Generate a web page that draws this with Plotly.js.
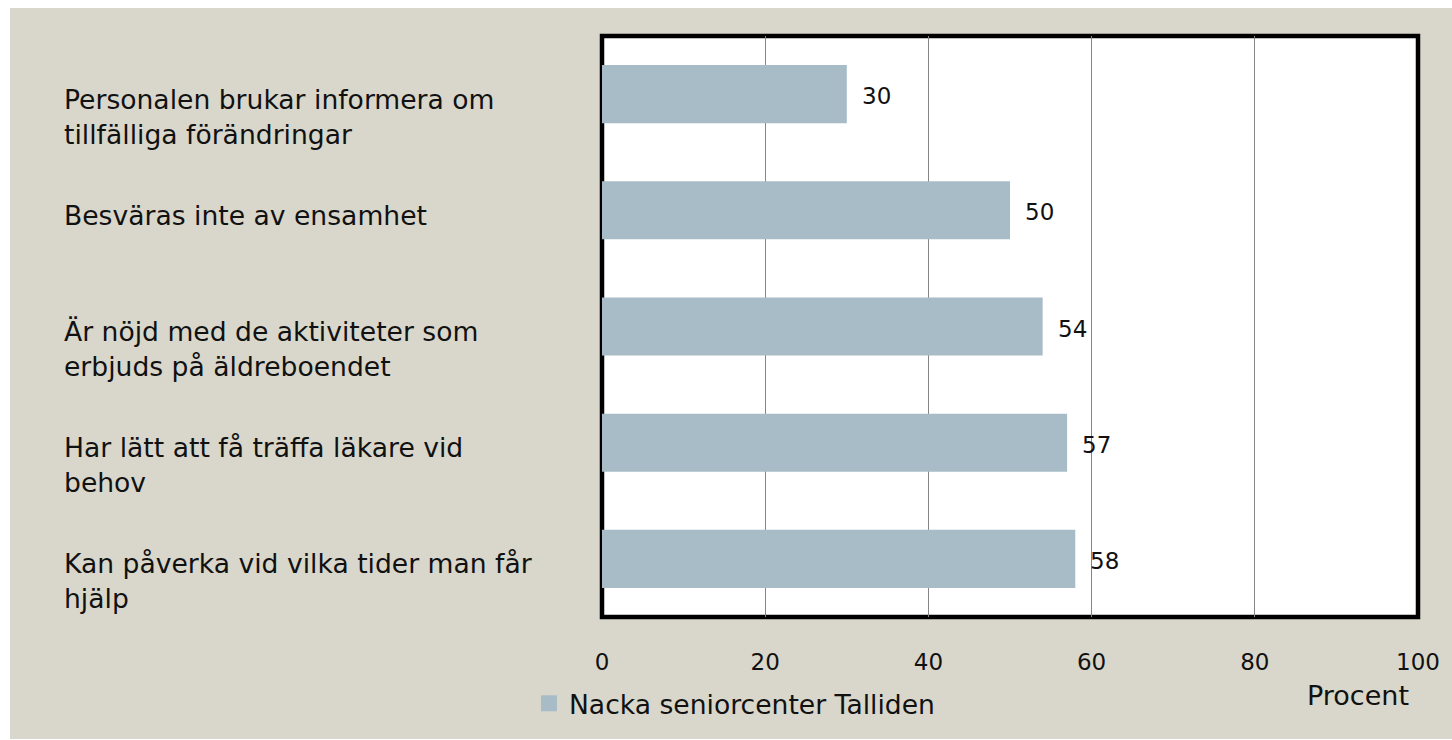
<!DOCTYPE html>
<html>
<head>
<meta charset="utf-8">
<script src="https://cdn.plot.ly/plotly-3.0.1.min.js"></script>
<style>
  html, body { margin: 0; padding: 0; background: #ffffff; width: 1452px; height: 740px; overflow: hidden; }
  #chart { position: absolute; left: 10px; top: 8px; width: 1442px; height: 731px; }
</style>
</head>
<body>
<div id="chart"></div>
<script>
// Data
const categories = [
  "Personalen brukar informera om<br>tillfälliga förändringar",
  "Besväras inte av ensamhet",
  "Är nöjd med de aktiviteter som<br>erbjuds på äldreboendet",
  "Har lätt att få träffa läkare vid<br>behov",
  "Kan påverka vid vilka tider man får<br>hjälp"
];
const values = [30, 50, 54, 57, 58];
const seriesName = "Nacka seniorcenter Talliden";
const xTicks = [0, 20, 40, 60, 80, 100];
const xAxisLabel = "Procent";

const FONT = "DejaVu Sans, sans-serif";
const TEXT = "#111111";
const BEIGE = "#d9d7cb";
const BAR = "#a7bcc6";

const catIds = categories.map((c, i) => "c" + i);

const annotations = [];
// category labels (left aligned, one annotation per line)
categories.forEach((c, i) => {
  c.split("<br>").forEach((line, j) => {
    annotations.push({
      xref: "paper", yref: "y", x: -0.6618, y: catIds[i],
      xanchor: "left", yanchor: "middle", align: "left",
      yshift: -5 - 35 * j,
      text: line, showarrow: false,
      font: { family: FONT, size: 26.6, color: TEXT }
    });
  });
});
// data labels
values.forEach((v, i) => {
  annotations.push({
    xref: "x", yref: "y", x: v, y: catIds[i],
    xanchor: "left", yanchor: "middle", xshift: 13, yshift: -2,
    text: String(v), showarrow: false,
    font: { family: FONT, size: 23, color: TEXT }
  });
});
// axis label
annotations.push({
  xref: "paper", yref: "paper", x: 0.9265, y: -0.1343,
  xanchor: "center", yanchor: "middle",
  text: xAxisLabel, showarrow: false,
  font: { family: FONT, size: 27, color: TEXT }
});

const barTrace = {
  type: "bar", orientation: "h",
  x: values, y: catIds, name: seriesName,
  marker: { color: BAR },
  width: 0.5,
  showlegend: false,
  hoverinfo: "x"
};
// legend entry (square swatch)
const legendTrace = {
  type: "scatter", mode: "markers",
  x: [null], y: [null], name: seriesName,
  marker: { color: BAR, symbol: "square", size: 16 },
  showlegend: true
};

const layout = {
  width: 1442, height: 731,
  margin: { l: 592, r: 34, t: 28, b: 122, pad: 0 },
  paper_bgcolor: BEIGE,
  plot_bgcolor: "#ffffff",
  font: { family: FONT, color: TEXT },
  showlegend: true,
  legend: {
    orientation: "h", xref: "paper", yref: "paper",
    x: -0.0895, y: -0.149, xanchor: "left", yanchor: "middle",
    bgcolor: "rgba(0,0,0,0)", itemwidth: 30,
    font: { family: FONT, size: 26.6, color: TEXT }
  },
  xaxis: {
    range: [0, 100], tickvals: xTicks, ticktext: xTicks.map(String),
    showgrid: true, gridcolor: "#858585", gridwidth: 1.3,
    zeroline: false, showline: false,
    ticks: "outside", ticklen: 24, tickcolor: "rgba(0,0,0,0)",
    tickfont: { family: FONT, size: 23, color: TEXT },
    fixedrange: true
  },
  yaxis: {
    type: "category", categoryorder: "array", categoryarray: catIds,
    autorange: "reversed", showticklabels: false, showgrid: false,
    zeroline: false, showline: false, ticks: "", fixedrange: true
  },
  shapes: [{
    type: "rect", xref: "paper", yref: "paper", x0: 0, x1: 1, y0: 0, y1: 1,
    line: { color: "#000000", width: 4.5 }, layer: "below"
  }],
  annotations: annotations,
  bargap: 0.5
};

Plotly.newPlot("chart", [barTrace, legendTrace], layout, { displayModeBar: false, staticPlot: true });
</script>
</body>
</html>
